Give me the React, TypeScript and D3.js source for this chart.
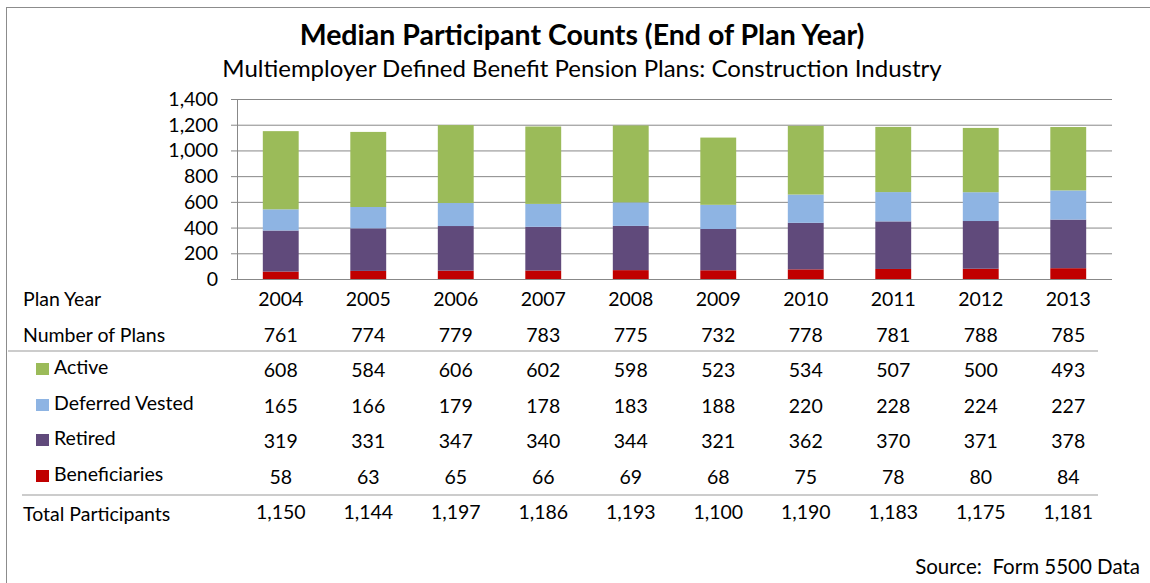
import React from "react";
import * as d3 from "d3";

const years = ["2004", "2005", "2006", "2007", "2008", "2009", "2010", "2011", "2012", "2013"];
const plans = [761, 774, 779, 783, 775, 732, 778, 781, 788, 785];
const active = [608, 584, 606, 602, 598, 523, 534, 507, 500, 493];
const deferred = [165, 166, 179, 178, 183, 188, 220, 228, 224, 227];
const retired = [319, 331, 347, 340, 344, 321, 362, 370, 371, 378];
const beneficiaries = [58, 63, 65, 66, 69, 68, 75, 78, 80, 84];
const totals = [1150, 1144, 1197, 1186, 1193, 1100, 1190, 1183, 1175, 1181];
const yTicks = [0, 200, 400, 600, 800, 1000, 1200, 1400];

const seriesKeys = ["beneficiaries", "retired", "deferred", "active"];
const seriesNames: Record<string, string> = {
  active: "Active",
  deferred: "Deferred Vested",
  retired: "Retired",
  beneficiaries: "Beneficiaries",
};
const colors: Record<string, string> = {
  active: "#9BBB59",
  deferred: "#8EB4E3",
  retired: "#604A7B",
  beneficiaries: "#C00000",
};

const W = 1150;
const H = 583;
const font = "Lato, 'Open Sans', sans-serif";

const App = () => {
  const rows = years.map((y, i) => ({
    year: y,
    active: active[i],
    deferred: deferred[i],
    retired: retired[i],
    beneficiaries: beneficiaries[i],
  }));
  const stacked = d3.stack<any>().keys(seriesKeys)(rows);

  const x = d3.scaleBand().domain(years).range([237, 1112]).paddingInner(0.59).paddingOuter(0.295);
  const y = d3.scaleLinear().domain([0, 1400]).range([279, 99]);
  const cx = (yr: string) => (x(yr) as number) + x.bandwidth() / 2;
  const fmt = d3.format(",");

  // table rows below the chart
  const tableRows = [
    { key: "active", vals: active, base: 377 },
    { key: "deferred", vals: deferred, base: 413 },
    { key: "retired", vals: retired, base: 448 },
    { key: "beneficiaries", vals: beneficiaries, base: 484 },
  ];

  return (
    <svg width={W} height={H} style={{ position: "absolute", left: 0, top: 0, background: "#fff" }} fontFamily={font}>
      <rect x={6.5} y={7.5} width={1200} height={700} fill="none" stroke="#8c8c8c" strokeWidth={1} />
      <text x={582} y={45} textAnchor="middle" fontSize={28.5} fontWeight="bold" fill="#000">
        Median Participant Counts (End of Plan Year)
      </text>
      <text x={582} y={77} textAnchor="middle" fontSize={24} fill="#000">
        Multiemployer Defined Benefit Pension Plans: Construction Industry
      </text>

      {yTicks.map((t) => (
        <g key={t}>
          <line x1={231} x2={1112} y1={y(t) + 0.5} y2={y(t) + 0.5} stroke="#888" strokeWidth={1} />
          <text x={218} y={y(t) + 7} textAnchor="end" fontSize={19.5} fill="#000">
            {fmt(t)}
          </text>
        </g>
      ))}
      <line x1={237.5} x2={237.5} y1={99} y2={279} stroke="#888" strokeWidth={1} />

      {stacked.map((s) => (
        <g key={s.key} fill={colors[s.key]}>
          {s.map((d, i) => (
            <rect
              key={i}
              x={x(years[i]) as number}
              y={y(d[1])}
              width={x.bandwidth()}
              height={y(d[0]) - y(d[1])}
            />
          ))}
        </g>
      ))}

      <g fontSize={19.5} fill="#000">
        <text x={23} y={306}>Plan Year</text>
        {years.map((yr) => (
          <text key={yr} x={cx(yr)} y={306} textAnchor="middle">{yr}</text>
        ))}
        <text x={23} y={342}>Number of Plans</text>
        {plans.map((v, i) => (
          <text key={i} x={cx(years[i])} y={342} textAnchor="middle">{fmt(v)}</text>
        ))}
        <line x1={8} x2={1098} y1={351} y2={351} stroke="#bbb" strokeWidth={1.5} />

        {tableRows.map((r) => (
          <g key={r.key}>
            <rect x={36} y={r.base - 14} width={13} height={12} fill={colors[r.key]} />
            <text x={54} y={r.base - 3}>{seriesNames[r.key]}</text>
            {r.vals.map((v, i) => (
              <text key={i} x={cx(years[i])} y={r.base} textAnchor="middle">{fmt(v)}</text>
            ))}
          </g>
        ))}

        <line x1={22} x2={1098} y1={495} y2={495} stroke="#bbb" strokeWidth={1.5} />
        <text x={23} y={521}>Total Participants</text>
        {totals.map((v, i) => (
          <text key={i} x={cx(years[i])} y={519} textAnchor="middle">{fmt(v)}</text>
        ))}
        <text x={1140} y={574} textAnchor="end" fontSize={20.5} style={{ whiteSpace: "pre" }}>
          Source:  Form 5500 Data
        </text>
      </g>
    </svg>
  );
};

export default App;
